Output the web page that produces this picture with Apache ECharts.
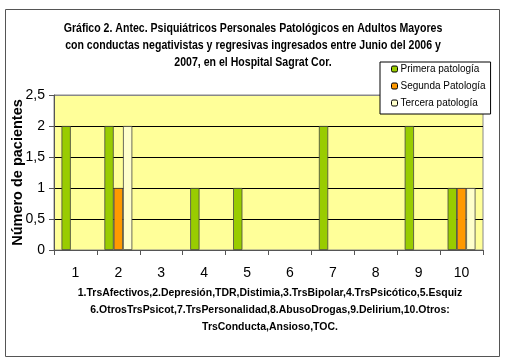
<!DOCTYPE html>
<html><head><meta charset="utf-8">
<script src="https://cdn.jsdelivr.net/npm/echarts@6/dist/echarts.min.js"></script>
<style>html,body{margin:0;padding:0;background:#fff}#c{width:505px;height:362px}</style>
</head><body><div id="c"></div>
<script>
const categories = ['1','2','3','4','5','6','7','8','9','10'];
const primera = [2,2,0,1,1,0,2,0,2,1];
const segunda = [0,1,0,0,0,0,0,0,0,1];
const tercera = [0,2,0,0,0,0,0,0,0,1];
const seriesNames = ['Primera patología','Segunda Patología','Tercera patología'];
const titleText = 'Gráfico 2. Antec. Psiquiátricos Personales Patológicos en Adultos Mayores\ncon conductas negativistas y regresivas ingresados entre Junio del 2006 y\n2007, en el Hospital Sagrat Cor.';
const xName = '1.TrsAfectivos,2.Depresión,TDR,Distimia,3.TrsBipolar,4.TrsPsicótico,5.Esquiz\n6.OtrosTrsPsicot,7.TrsPersonalidad,8.AbusoDrogas,9.Delirium,10.Otros:\nTrsConducta,Ansioso,TOC.';
const yName = 'Número de pacientes';

const ff = 'Arial,"Liberation Sans",sans-serif';
const chart = echarts.init(document.getElementById('c'), null, {renderer:'canvas'});
const colors = ['#99CC00','#FF9900','#FFFFCC'];
const data = [primera, segunda, tercera];
chart.setOption({
  animation:false,
  backgroundColor:'#fff',
  graphic:[
    {type:'rect',shape:{x:5.5,y:9.5,width:494,height:347},style:{fill:null,stroke:'#555',lineWidth:1},z:-1},
    {type:'text',x:253,y:20,scaleX:0.845,originX:0,
      style:{text:titleText,textAlign:'center',font:'bold 12.5px '+ff,lineHeight:17,fill:'#000'}},
    {type:'text',x:270,y:284,scaleX:0.91,originX:0,
      style:{text:xName,textAlign:'center',font:'bold 11.5px '+ff,lineHeight:17,fill:'#000'}}
  ],
  legend:{orient:'vertical',left:380,top:62,data:seriesNames,
    backgroundColor:'#fff',borderColor:'#000',borderWidth:1,padding:[1,5,5,11],
    itemWidth:6,itemHeight:6,itemGap:5,
    itemStyle:{borderColor:'#000',borderWidth:1},
    textStyle:{fontFamily:ff,fontSize:10,lineHeight:12,color:'#000',padding:[0,0,0,-2]}},
  grid:{left:54,right:22,top:95,bottom:112,outerBoundsMode:'none',containLabel:false,
    show:true,backgroundColor:'#FFFF99',borderColor:'#888',borderWidth:1},
  xAxis:{type:'category',data:categories,
    axisLine:{lineStyle:{color:'#555',width:1}},
    axisTick:{show:true,length:5,lineStyle:{color:'#555'}},
    axisLabel:{fontFamily:ff,fontSize:14,color:'#000',margin:16}},
  yAxis:{type:'value',min:0,max:2.5,interval:0.5,
    name:yName,nameLocation:'middle',nameGap:29,nameMoveOverlap:false,
    nameTextStyle:{fontFamily:ff,fontSize:14.5,fontWeight:'bold',color:'#000'},
    axisLine:{show:true,lineStyle:{color:'#555'}},
    axisTick:{show:true,length:5,lineStyle:{color:'#555'}},
    axisLabel:{fontFamily:ff,fontSize:14,color:'#000',margin:9,
      formatter:v=>String(v).replace('.',',')},
    splitLine:{show:true,lineStyle:{color:['#555','#000','#000','#000','#000','#888'],width:1}}},
  series:seriesNames.map((n,i)=>({name:n,type:'bar',data:data[i].map(v=>v===0?null:v),barGap:'0%',barCategoryGap:'35%',
    itemStyle:{color:colors[i],borderColor:'#444',borderWidth:0.8}}))
});
</script></body></html>
